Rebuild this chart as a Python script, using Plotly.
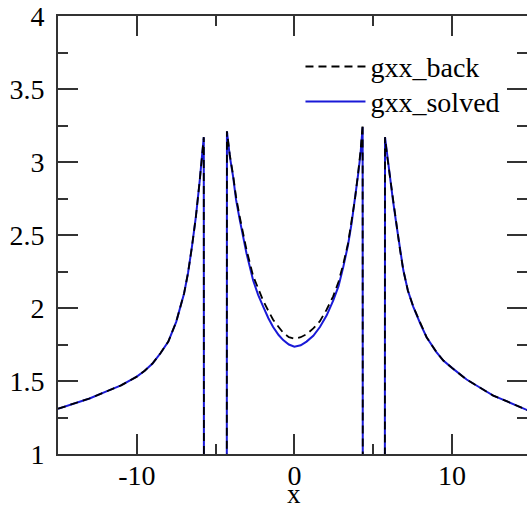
import plotly.graph_objects as go

# ---- data ----
x_solved = [-15.0, -14.0, -13.0, -12.0, -11.0, -10.0, -9.5, -9.0, -8.5, -8.0, -7.5, -7.0, -6.75, -6.5, -6.25,
            -6.0, -5.85, -5.75,
            -5.74, -4.29,
            -4.28, -4.1, -3.89, -3.7, -3.46, -3.25, -3.04, -2.62, -2.3, -1.98, -1.65, -1.35, -1.0, -0.71, -0.35,
            0.0, 0.4, 0.77, 1.2, 1.62, 2.05, 2.46, 2.8, 3.10, 3.4, 3.63, 3.85, 4.05, 4.2, 4.33,
            4.34, 5.74,
            5.75, 5.9, 6.06, 6.25, 6.49, 6.7, 6.91, 7.2, 7.54, 8.0, 8.39, 9.0, 9.45, 10.0, 10.93, 12.0, 12.62,
            13.5, 15.0]
y_solved = [1.31, 1.345, 1.38, 1.425, 1.47, 1.53, 1.57, 1.62, 1.69, 1.77, 1.905, 2.10, 2.24, 2.42, 2.625,
            2.88, 3.04, 3.17,
            0.5, 0.5,
            3.21, 3.04, 2.90, 2.74, 2.60, 2.48, 2.375, 2.19, 2.09, 2.01, 1.93, 1.87, 1.815, 1.78, 1.75,
            1.735, 1.745, 1.77, 1.81, 1.87, 1.95, 2.05, 2.15, 2.28, 2.43, 2.58, 2.74, 2.92, 3.06, 3.24,
            0.5, 0.5,
            3.17, 3.03, 2.90, 2.74, 2.56, 2.40, 2.26, 2.12, 2.01, 1.89, 1.80, 1.70, 1.64, 1.59, 1.51, 1.44, 1.40,
            1.36, 1.29]

x_back = x_solved
y_back = [1.31, 1.345, 1.38, 1.425, 1.47, 1.53, 1.57, 1.62, 1.69, 1.77, 1.905, 2.10, 2.24, 2.42, 2.625,
          2.88, 3.04, 3.17,
          0.5, 0.5,
          3.21, 3.05, 2.91, 2.76, 2.62, 2.50, 2.40, 2.22, 2.13, 2.05, 1.98, 1.92, 1.87, 1.83, 1.80,
          1.79, 1.80, 1.82, 1.86, 1.91, 1.99, 2.08, 2.18, 2.30, 2.44, 2.59, 2.75, 2.93, 3.08, 3.26,
          0.5, 0.5,
          3.17, 3.03, 2.90, 2.74, 2.56, 2.40, 2.26, 2.12, 2.01, 1.89, 1.80, 1.70, 1.64, 1.59, 1.51, 1.44, 1.40,
          1.36, 1.29]

x_ticks = [-10, 0, 10]
x_tick_text = ["-10", "0", "10"]
y_ticks = [1, 1.5, 2, 2.5, 3, 3.5, 4]
y_tick_text = ["1", "1.5", "2", "2.5", "3", "3.5", "4"]
x_title = "x"

FONT = "Liberation Serif"
AX = "#333333"

fig = go.Figure()
fig.add_trace(go.Scatter(x=x_solved, y=y_solved, mode="lines", name="gxx_solved", legend="legend2",
                         line=dict(color="rgb(25,25,215)", width=2)))
fig.add_trace(go.Scatter(x=x_back, y=y_back, mode="lines", name="gxx_back", legend="legend",
                         line=dict(color="black", width=1.8, dash="8px,5px")))
# helper trace for the right-hand tick set
fig.add_trace(go.Scatter(x=[], y=[], yaxis="y2", showlegend=False, hoverinfo="skip"))

leg_common = dict(xanchor="left", yanchor="middle", bgcolor="rgba(0,0,0,0)",
                  font=dict(size=28, family=FONT), itemwidth=60)

fig.update_layout(
    width=527, height=510,
    margin=dict(l=58, r=0, t=16, b=56),
    paper_bgcolor="white", plot_bgcolor="white",
    font=dict(family=FONT, size=28, color="black"),
    showlegend=True,
    legend=dict(x=0.517, y=0.884, **leg_common),
    legend2=dict(x=0.517, y=0.804, **leg_common),
    xaxis=dict(range=[-15, 14.76], tickvals=x_ticks, ticktext=x_tick_text, showgrid=False, zeroline=False,
               showline=True, linecolor=AX, linewidth=2, mirror="ticks", automargin=False,
               ticks="inside", ticklen=20, tickwidth=2, tickcolor=AX,
               minor=dict(ticks="inside", ticklen=10, tickwidth=2, tickcolor=AX, dtick=5, tick0=0),
               ticklabelstandoff=-5),
    yaxis=dict(range=[1, 4], tickvals=y_ticks, ticktext=y_tick_text, showgrid=False, zeroline=False,
               showline=True, linecolor=AX, linewidth=2, automargin=False,
               ticks="inside", ticklen=20, tickwidth=2, tickcolor=AX,
               minor=dict(ticks="inside", ticklen=10, tickwidth=2, tickcolor=AX, dtick=0.25, tick0=1),
               ticklabelstandoff=6),
    yaxis2=dict(range=[1, 4], overlaying="y", side="right", tickvals=y_ticks, showticklabels=False,
                showgrid=False, zeroline=False, showline=False, automargin=False,
                ticks="inside", ticklen=20, tickwidth=2, tickcolor=AX,
                minor=dict(ticks="inside", ticklen=10, tickwidth=2, tickcolor=AX, dtick=0.25, tick0=1)),
    annotations=[dict(text=x_title, xref="x", x=0, yref="paper", y=0, yanchor="bottom", yshift=-56,
                      showarrow=False, borderpad=0, font=dict(size=27, family=FONT))],
)

fig.write_html("out.html")
